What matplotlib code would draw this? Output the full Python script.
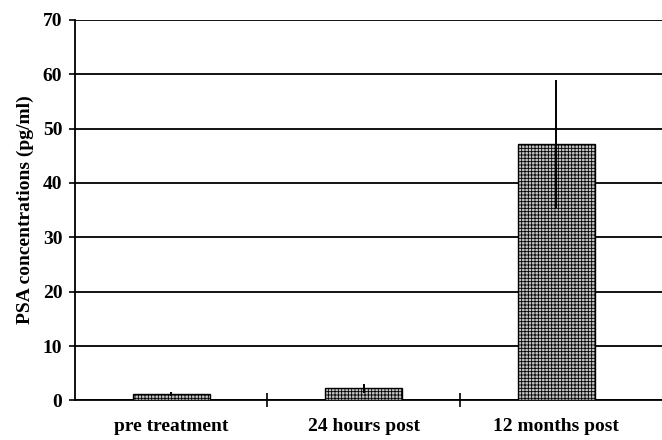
import numpy as np
import matplotlib.pyplot as plt

plt.rcParams['font.family'] = ['Liberation Serif', 'DejaVu Serif']
plt.rcParams['font.weight'] = 'bold'
plt.rcParams['hatch.color'] = '#6e6e6e'
plt.rcParams['hatch.linewidth'] = 0.6

# data
groups = ["pre treatment", "24 hours post", "12 months post"]
psa_mean = [1.2, 2.2, 47.2]
psa_err = [0.3, 0.9, 11.8]

fig = plt.figure(figsize=(6.62, 4.4), dpi=100)
ax = fig.add_axes([0.113, 0.09, 0.887, 0.865])

x = np.arange(len(groups))
ax.bar(x, psa_mean, width=0.4, color='#c4c4c4', edgecolor='black',
       linewidth=1.0, hatch='+++++', zorder=3)
ax.errorbar(x, psa_mean, yerr=psa_err, fmt='none', ecolor='black',
            elinewidth=1.4, capsize=0, zorder=4)

ax.set_ylim(0, 70)
ax.set_xlim(-0.5, 2.55)
ax.set_yticks(range(0, 71, 10))
ax.yaxis.grid(True, color='black', linewidth=1.3)
ax.set_axisbelow(True)

ax.set_xticks([0.5, 1.5])
ax.set_xticklabels([])
ax.tick_params(axis='x', direction='inout', length=10, width=1.2)
ax.tick_params(axis='y', direction='out', length=4, width=1.2,
               labelsize=14, pad=5)
for i, g in enumerate(groups):
    ax.text(i, -4.8, g, ha='center', va='center', fontsize=14,
            fontweight='bold')

for s in ['top', 'right']:
    ax.spines[s].set_visible(False)
ax.spines['left'].set_linewidth(1.3)
ax.spines['bottom'].set_linewidth(1.3)

ax.set_ylabel("PSA concentrations (pg/ml)", fontsize=14, fontweight='bold',
              labelpad=6)

fig.savefig("out.png", dpi=100)
